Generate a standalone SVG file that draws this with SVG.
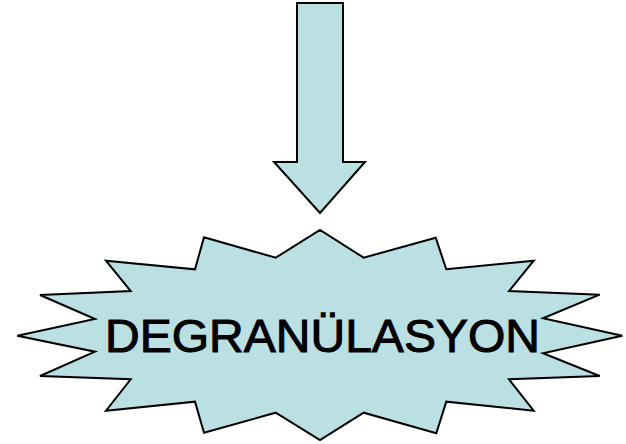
<svg xmlns="http://www.w3.org/2000/svg" width="626" height="444" viewBox="0 0 626 444">
<style>
.shape{fill:#bbe0e3;stroke:#000;stroke-width:2;stroke-linejoin:miter}
.label{font-family:"Comic Sans MS","Liberation Sans","DejaVu Sans",sans-serif;font-size:46px;fill:#000;stroke:#000;stroke-width:1}
</style>
<rect width="626" height="444" fill="#fff"/>
<g id="connectors">
<path class="shape" d="M297,3 H343 V162 H365 L320,213 L274,162 H297 Z"/>
</g>
<g id="degranulasyon">
<path class="shape" d="M204,237.3 L275.7,257.7 L320,230 L363.7,257.7 L435.7,237.7 L446.3,269.3 L533.7,260.7 L509,291 L599.7,294.7 L543,318.3 L622.3,335.7 L543,353.3 L599.7,376 L509,379.3 L533.7,410.7 L446.3,401.7 L436.3,433.3 L363.7,412.7 L320,440 L275.7,412.7 L204,432.7 L195,401.7 L106,410.7 L130.7,379.3 L40,376 L95,351.7 L17.3,335.7 L95,319 L40,295 L130.7,291 L106,260.7 L195,269.3 Z"/>
<text class="label" x="105" y="352" textLength="435" lengthAdjust="spacingAndGlyphs">DEGRANÜLASYON</text>
</g>
</svg>
